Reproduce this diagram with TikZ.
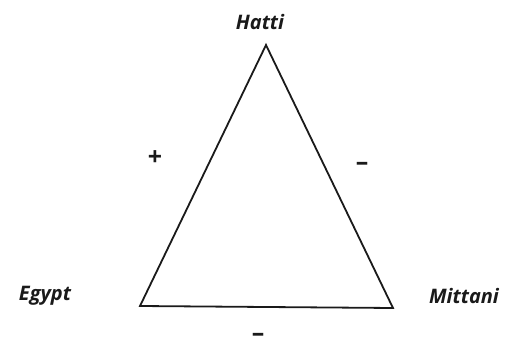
\documentclass[tikz,border=0pt]{standalone}
\usepackage{fontspec}
\setmainfont{Open Sans}
\usepackage{tikz}
\usetikzlibrary{arrows.meta,positioning}
\definecolor{inkblack}{HTML}{1A1A1A}

\begin{document}
\begin{tikzpicture}[
  x=1pt, y=-1pt,
  state/.style={font=\fontsize{20}{22}\selectfont\itshape\bfseries, text=inkblack, inner sep=0pt},
  sign/.style={font=\fontsize{25}{27}\selectfont\bfseries, text=inkblack, inner sep=0pt},
  side/.style={line width=1.8pt, draw=inkblack, line join=miter}
]
  \useasboundingbox (0,0) rectangle (507,340);

  % Corners of the triangle
  \coordinate (hatti) at (266,45);
  \coordinate (egypt) at (140,306);
  \coordinate (mittani) at (393,308);

  % Names of the states
  \node[state] (hattiL) at (260,22) {Hatti};
  \node[state] (egyptL) at (45,296) {Egypt};
  \node[state] (mittaniL) at (464,296) {Mittani};

  % Relations
  \draw[side] (hatti) -- (egypt) -- (mittani) -- cycle;
  \node[sign] (plus) at (155,158) {+};
  \node[sign] (minusR) at (362,166) {–};
  \node[sign] (minusB) at (258,337) {–};
\end{tikzpicture}
\end{document}
